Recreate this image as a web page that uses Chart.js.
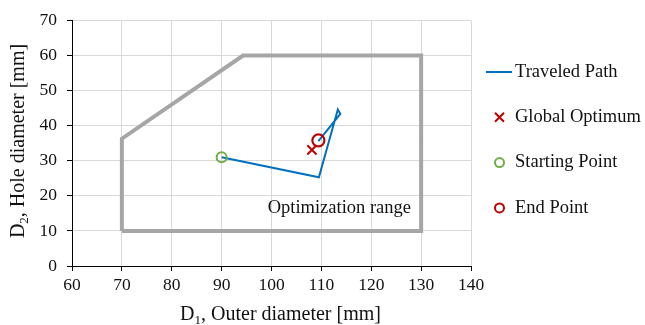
<!DOCTYPE html>
<html>
<head>
<meta charset="utf-8">
<script src="https://cdn.jsdelivr.net/npm/chart.js@4/dist/chart.umd.min.js"></script>
<style>
  html, body { margin: 0; padding: 0; background: #fff; }
  #wrap { width: 645px; height: 325px; }
</style>
</head>
<body>
<div id="wrap"><canvas id="c" width="645" height="325"></canvas></div>
<script>
// ---- data ----
const pathX = [90, 109.5, 113.3, 113.8, 109.4];
const pathY = [31, 25.3, 44.6, 43.4, 35.6];
const rangeX = [70, 70, 94.3, 130, 130, 70];
const rangeY = [10, 36.3, 60, 60, 10, 10];
const globalOptX = [108.1];
const globalOptY = [33.1];
const startX = [90];
const startY = [31];
const endX = [109.4];
const endY = [35.8];
const xTicks = [60, 70, 80, 90, 100, 110, 120, 130, 140];
const yTicks = [0, 10, 20, 30, 40, 50, 60, 70];
const legendLabels = ['Traveled Path', 'Global Optimum', 'Starting Point', 'End Point'];
const rangeLabel = 'Optimization range';
const xTitleParts = ['D', '1', ', Outer diameter [mm]'];
const yTitleParts = ['D', '2', ', Hole diameter [mm]'];

const pts = (xs, ys) => xs.map((x, i) => ({x: x, y: ys[i]}));

const FONT = "'Liberation Serif', 'Times New Roman', serif";
const BLUE = '#0070c0', RED = '#c00000', GREEN = '#70ad47', GRAY = '#a6a6a6';
const TXT = '#111';

function drawSubTitle(ctx, parts, cx, baseY, size) {
  const big = size + 'px ' + FONT, small = Math.round(size * 0.65) + 'px ' + FONT;
  ctx.font = big; const w0 = ctx.measureText(parts[0]).width, w2 = ctx.measureText(parts[2]).width;
  ctx.font = small; const w1 = ctx.measureText(parts[1]).width;
  let x = cx - (w0 + w1 + w2) / 2;
  ctx.textAlign = 'left'; ctx.textBaseline = 'alphabetic'; ctx.fillStyle = TXT;
  ctx.font = big; ctx.fillText(parts[0], x, baseY); x += w0;
  ctx.font = small; ctx.fillText(parts[1], x, baseY + size * 0.2); x += w1;
  ctx.font = big; ctx.fillText(parts[2], x, baseY);
}

const extras = {
  id: 'extras',
  afterDraw(chart) {
    const ctx = chart.ctx;
    const xs = chart.scales.x, ys = chart.scales.y;
    ctx.save();
    // axis titles
    drawSubTitle(ctx, xTitleParts, 280.5, 320, 20);
    ctx.save();
    ctx.translate(24, 141);
    ctx.rotate(-Math.PI / 2);
    drawSubTitle(ctx, yTitleParts, 0, 0, 20);
    ctx.restore();
    // optimization range label
    ctx.font = '18.5px ' + FONT;
    ctx.fillStyle = TXT;
    ctx.textAlign = 'center';
    ctx.textBaseline = 'middle';
    ctx.fillText(rangeLabel, xs.getPixelForValue(113.6), ys.getPixelForValue(16.4));
    // legend
    const lx = 486, ly0 = 72, gap = 45.3;
    ctx.textAlign = 'left';
    legendLabels.forEach((lab, i) => {
      const y = ly0 + i * gap;
      ctx.lineWidth = 2;
      if (i === 0) {
        ctx.strokeStyle = BLUE;
        ctx.beginPath(); ctx.moveTo(lx, y); ctx.lineTo(lx + 26, y); ctx.stroke();
      } else if (i === 1) {
        ctx.strokeStyle = RED;
        ctx.beginPath();
        ctx.moveTo(lx + 9, y - 4.5); ctx.lineTo(lx + 18, y + 4.5);
        ctx.moveTo(lx + 18, y - 4.5); ctx.lineTo(lx + 9, y + 4.5);
        ctx.stroke();
      } else {
        ctx.strokeStyle = i === 2 ? GREEN : RED;
        ctx.beginPath(); ctx.arc(lx + 13.5, y, 4.5, 0, Math.PI * 2); ctx.stroke();
      }
      ctx.fillStyle = TXT;
      ctx.font = '18.5px ' + FONT;
      ctx.fillText(lab, lx + 29, y);
    });
    ctx.restore();
  }
};

new Chart(document.getElementById('c'), {
  type: 'scatter',
  data: {
    datasets: [
      { label: 'Optimization range', data: pts(rangeX, rangeY), showLine: true,
        borderColor: GRAY, borderWidth: 4, pointRadius: 0, borderJoinStyle: 'miter', order: 5 },
      { label: legendLabels[0], data: pts(pathX, pathY), showLine: true,
        borderColor: BLUE, borderWidth: 2, pointRadius: 0, order: 4 },
      { label: legendLabels[1], data: pts(globalOptX, globalOptY), pointStyle: 'crossRot',
        pointRadius: 6.5, borderColor: RED, borderWidth: 2, order: 3 },
      { label: legendLabels[2], data: pts(startX, startY), pointStyle: 'circle',
        pointRadius: 5, borderColor: GREEN, backgroundColor: 'rgba(0,0,0,0)', borderWidth: 2, order: 2 },
      { label: legendLabels[3], data: pts(endX, endY), pointStyle: 'circle',
        pointRadius: 6, borderColor: RED, backgroundColor: 'rgba(0,0,0,0)', borderWidth: 2.2, order: 1 }
    ]
  },
  options: {
    responsive: false,
    animation: false,
    layout: { padding: { top: 14, right: 174, left: 0, bottom: 0 } },
    plugins: { legend: { display: false }, tooltip: { enabled: false } },
    scales: {
      x: {
        type: 'linear', min: 60, max: 140,
        afterBuildTicks: s => { s.ticks = xTicks.map(v => ({value: v})); },
        afterFit: s => { s.height = 59; },
        ticks: { font: { family: FONT, size: 17.5 }, color: TXT, padding: 4, maxRotation: 0 },
        grid: { color: '#d9d9d9', tickColor: '#000', tickLength: 5 },
        border: { color: '#000', width: 1 },
        title: { display: false }
      },
      y: {
        type: 'linear', min: 0, max: 70,
        afterBuildTicks: s => { s.ticks = yTicks.map(v => ({value: v})); },
        afterFit: s => { s.width = 72; },
        ticks: { font: { family: FONT, size: 17.5 }, color: TXT, padding: 10 },
        grid: { color: '#d9d9d9', tickColor: '#000', tickLength: 5 },
        border: { color: '#000', width: 1 },
        title: { display: false }
      }
    }
  },
  plugins: [extras]
});
</script>
</body>
</html>
